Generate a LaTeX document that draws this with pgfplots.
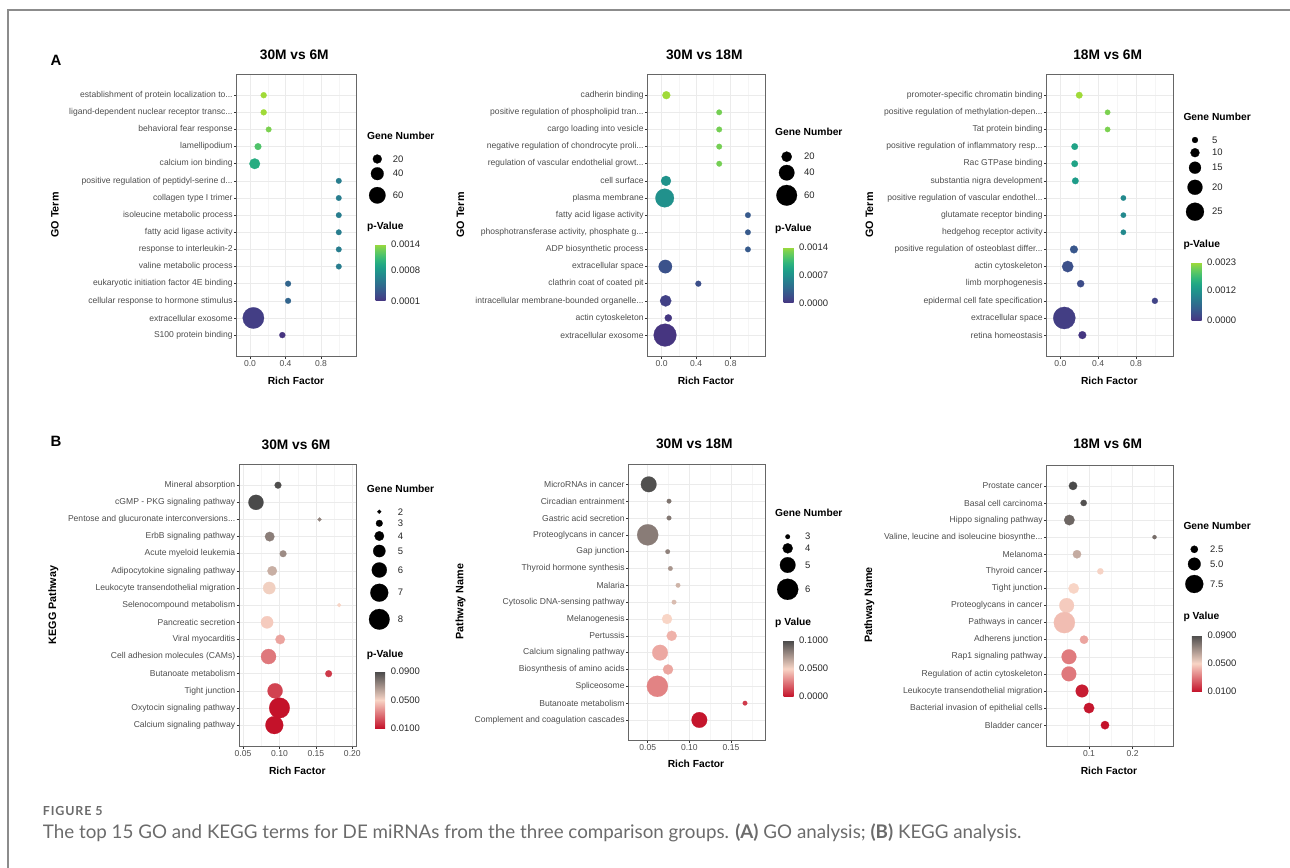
\documentclass[border=0pt]{standalone}
\usepackage{pgfplots}
\pgfplotsset{compat=1.18}
\usepackage{fontspec}
\setmainfont{Liberation Sans}
\newfontfamily\capfont{Lato}
\definecolor{tickgray}{HTML}{4D4D4D}
\definecolor{capgray}{HTML}{6B6B6B}
\newcommand{\el}{...}
\newcommand{\fTick}{\fontsize{8.6}{9}\selectfont}
\newcommand{\fAx}{\bfseries\fontsize{10.3}{11}\selectfont}
\newcommand{\fAy}{\bfseries\fontsize{10.8}{11}\selectfont}
\newcommand{\fTitle}{\bfseries\fontsize{13.8}{15}\selectfont}
\newcommand{\fLeg}{\fontsize{9.5}{10}\selectfont}
\tikzset{lg/.style={font=\fLeg, text=black!85, anchor=west, inner sep=0pt}}
\pgfplotsset{
  colormap={vir}{rgb255=(70,52,128) rgb255=(65,68,135) rgb255=(59,82,139) rgb255=(53,95,141) rgb255=(47,108,142) rgb255=(42,120,142) rgb255=(37,132,142) rgb255=(33,145,140) rgb255=(30,156,137) rgb255=(34,168,132) rgb255=(47,180,124) rgb255=(68,191,112) rgb255=(94,201,98) rgb255=(122,209,81) rgb255=(160,218,56)},
  colormap={rdgy}{rgb255=(196,18,42) rgb255=(248,213,198) rgb255=(74,74,74)},
  panel/.style={
    scale only axis, enlargelimits=false,
    y dir=reverse, ymin=-0.22, ymax=16.22, ytick={1,2,3,4,5,6,7,8,9,10,11,12,13,14,15},
    axis line style={draw=black!60, line width=0.9bp},
    tick align=outside, major tick length=2.7bp, minor tick length=0pt,
    tick style={black!80, line width=0.5bp},
    tick pos=left,
    grid=both,
    major grid style={draw=black!8, line width=0.5bp},
    minor grid style={draw=black!4, line width=0.3bp},
    yticklabel style={font=\fTick, text=tickgray, inner sep=1.2bp},
    xticklabel style={font=\fTick, text=tickgray, inner sep=1.5bp},
    point meta=explicit,
  },
  cbar/.style={at={(parent axis.north east)}, anchor=north west, width=10bp,
    axis line style={draw=none}, major tick length=0pt, ytick style={draw=none},
    yticklabel pos=right, scaled y ticks=false,
    yticklabel style={font=\fLeg, text=black!85, inner sep=0pt, xshift=5.5bp}},
  bub/.style 2 args={scatter, only marks, mark=*, line width=0.2bp,
    scatter/use mapped color={draw=mapped color, fill=mapped color},
    visualization depends on={#1+#2*\thisrow{n} \as \dia},
    scatter/@pre marker code/.append style={/tikz/mark size=\dia/2}},
  bubk/.style 2 args={scatter, only marks, mark=*, line width=0.2bp,
    scatter/use mapped color={draw=black, fill=black},
    visualization depends on={#1+#2*\thisrow{n} \as \dia},
    scatter/@pre marker code/.append style={/tikz/mark size=\dia/2}},
}
\begin{document}
\begin{tikzpicture}
\path[use as bounding box] (0,0) rectangle (1290bp,868bp);
% ---------------- overlay: texts, legends, caption ----------------
\begin{axis}[at={(0,0)}, anchor=south west, scale only axis, width=1290bp, height=868bp,
  xmin=0, xmax=1290, ymin=0, ymax=868, y dir=reverse, hide axis, clip=false]
\draw[black!45, line width=1.2bp] (axis cs:8,868) -- (axis cs:8,10) -- (axis cs:1290,10);
% panel letters
\node[font=\bfseries\fontsize{15}{16}\selectfont] at (axis cs:56,60.7) {A};
\node[font=\bfseries\fontsize{15}{16}\selectfont] at (axis cs:56,441) {B};
% titles
\node[font=\fTitle] at (axis cs:294.3,55) {30M vs 6M};
\node[font=\fTitle] at (axis cs:704.3,55) {30M vs 18M};
\node[font=\fTitle] at (axis cs:1107.7,55) {18M vs 6M};
\node[font=\fTitle] at (axis cs:296,445) {30M vs 6M};
\node[font=\fTitle] at (axis cs:694.3,443.3) {30M vs 18M};
\node[font=\fTitle] at (axis cs:1107.7,444) {18M vs 6M};
% x labels
\node[font=\fAx] at (axis cs:296,380.7) {Rich Factor};
\node[font=\fAx] at (axis cs:706,381) {Rich Factor};
\node[font=\fAx] at (axis cs:1109.3,381) {Rich Factor};
\node[font=\fAx] at (axis cs:297.3,770.7) {Rich Factor};
\node[font=\fAx] at (axis cs:696,764.3) {Rich Factor};
\node[font=\fAx] at (axis cs:1109,771) {Rich Factor};
% y labels
\node[font=\fAy, rotate=90] at (axis cs:55,215) {GO Term};
\node[font=\fAy, rotate=90] at (axis cs:460.5,215) {GO Term};
\node[font=\fAy, rotate=90] at (axis cs:869.3,215) {GO Term};
\node[font=\fAy, rotate=90] at (axis cs:53.3,605) {KEGG Pathway};
\node[font=\fAy, rotate=90] at (axis cs:460.5,601.7) {Pathway Name};
\node[font=\fAy, rotate=90] at (axis cs:869.3,605) {Pathway Name};
% legend titles
\node[font=\fAx, anchor=west, inner sep=0pt] at (axis cs:367,135.7) {Gene Number};
\node[font=\fAx, anchor=west, inner sep=0pt] at (axis cs:367,226.7) {p-Value};
\node[font=\fAx, anchor=west, inner sep=0pt] at (axis cs:775,132.3) {Gene Number};
\node[font=\fAx, anchor=west, inner sep=0pt] at (axis cs:775,229.3) {p-Value};
\node[font=\fAx, anchor=west, inner sep=0pt] at (axis cs:1183.3,116.7) {Gene Number};
\node[font=\fAx, anchor=west, inner sep=0pt] at (axis cs:1183.3,245) {p-Value};
\node[font=\fAx, anchor=west, inner sep=0pt] at (axis cs:366.7,489) {Gene Number};
\node[font=\fAx, anchor=west, inner sep=0pt] at (axis cs:366.7,655) {p-Value};
\node[font=\fAx, anchor=west, inner sep=0pt] at (axis cs:775,513.3) {Gene Number};
\node[font=\fAx, anchor=west, inner sep=0pt] at (axis cs:775,623.3) {p Value};
\node[font=\fAx, anchor=west, inner sep=0pt] at (axis cs:1183.3,526) {Gene Number};
\node[font=\fAx, anchor=west, inner sep=0pt] at (axis cs:1183.3,616.7) {p Value};
% size legend keys
\addplot[bubk={5.25}{0.1875}] table[x=x, y=y] {
x y n
377.3 159 20
377.3 173.7 40
377.3 195.3 60
};
\addplot[bubk={5.1}{0.26}] table[x=x, y=y] {
x y n
786.7 156.7 20
786.7 172.7 40
786.7 195.3 60
};
\addplot[bubk={3}{0.6}] table[x=x, y=y] {
x y n
1195 140 5
1195 152.7 10
1195 167.7 15
1195 187.3 20
1195 211.7 25
};
\addplot[bubk={-1.57}{2.78}] table[x=x, y=y] {
x y n
379.3 511.7 2
379.3 523.3 3
379.3 536 4
379.3 551 5
379.3 570 6
379.3 592.7 7
379.3 619.3 8
};
\addplot[bubk={-12}{5.53}] table[x=x, y=y] {
x y n
787.7 536.7 3
787.7 548.3 4
787.7 565 5
787.7 589.3 6
};
\addplot[bubk={1.95}{2.14}] table[x=x, y=y] {
x y n
1194.3 549.3 2.5
1194.3 564 5.0
1194.3 584 7.5
};
% size legend labels
\node[lg] at (axis cs:392.7,159) {20};
\node[lg] at (axis cs:392.7,173.7) {40};
\node[lg] at (axis cs:392.7,195.3) {60};
\node[lg] at (axis cs:804,156.7) {20};
\node[lg] at (axis cs:804,172.7) {40};
\node[lg] at (axis cs:804,195.3) {60};
\node[lg] at (axis cs:1212,140) {5};
\node[lg] at (axis cs:1212,152.7) {10};
\node[lg] at (axis cs:1212,167.7) {15};
\node[lg] at (axis cs:1212,187.3) {20};
\node[lg] at (axis cs:1212,211.7) {25};
\node[lg] at (axis cs:397.7,511.7) {2};
\node[lg] at (axis cs:397.7,523.3) {3};
\node[lg] at (axis cs:397.7,536) {4};
\node[lg] at (axis cs:397.7,551) {5};
\node[lg] at (axis cs:397.7,570) {6};
\node[lg] at (axis cs:397.7,592.7) {7};
\node[lg] at (axis cs:397.7,619.3) {8};
\node[lg] at (axis cs:805,536.7) {3};
\node[lg] at (axis cs:805,548.3) {4};
\node[lg] at (axis cs:805,565) {5};
\node[lg] at (axis cs:805,589.3) {6};
\node[lg] at (axis cs:1210,549.3) {2.5};
\node[lg] at (axis cs:1210,564) {5.0};
\node[lg] at (axis cs:1210,584) {7.5};
% caption
\node[anchor=base west, inner sep=0pt, font=\capfont\bfseries\fontsize{12.5}{13}\selectfont\addfontfeature{LetterSpace=7}, text=capgray] at (axis cs:42.7,815.7) {FIGURE 5};
\node[anchor=base west, inner sep=0pt, font=\capfont\fontsize{18.85}{20}\selectfont, text=capgray] at (axis cs:42.7,838.3)
  {The top 15 GO and KEGG terms for DE miRNAs from the three comparison groups. {\bfseries(A)} GO analysis; {\bfseries(B)} KEGG analysis.};
\end{axis}
% ---------------- A1 ----------------
\begin{axis}[panel, at={(236.7bp,512bp)}, anchor=south west, width=119.3bp, height=281.7bp,
  xmin=-0.15, xmax=1.194, xtick={0,0.4,0.8}, xticklabels={0.0,0.4,0.8}, minor xtick={0.2,0.6,1.0},
  yticklabels={{establishment of protein localization to\el},{ligand-dependent nuclear receptor transc\el},behavioral fear response,lamellipodium,calcium ion binding,{positive regulation of peptidyl-serine d\el},collagen type I trimer,isoleucine metabolic process,fatty acid ligase activity,response to interleukin-2,valine metabolic process,eukaryotic initiation factor 4E binding,cellular response to hormone stimulus,extracellular exosome,S100 protein binding},
  colormap name=vir, point meta min=0.0001, point meta max=0.0014,
  colorbar, colorbar style={cbar, xshift=11bp, yshift=-169.7bp, height=57bp,
    ytick={0.0001,0.0008,0.0014}, yticklabels={0.0001,0.0008,0.0014}}]
\addplot[bub={5.25}{0.1875}] table[x=rf, y=i, meta=p] {
i rf n p
1 0.154 4 0.0014
2 0.154 4 0.0014
3 0.210 2 0.00131
4 0.090 8 0.00116
5 0.053 29 0.00097
6 1.0 2 0.0006
7 1.0 2 0.0006
8 1.0 2 0.0006
9 1.0 2 0.0006
10 1.0 2 0.0006
11 1.0 2 0.0006
12 0.429 3 0.00042
13 0.429 3 0.00042
14 0.038 86 0.00016
15 0.364 4 0.0001
};
\end{axis}
% ---------------- A2 ----------------
\begin{axis}[panel, at={(647.7bp,512bp)}, anchor=south west, width=117.3bp, height=281.7bp,
  xmin=-0.162, xmax=1.198, xtick={0,0.4,0.8}, xticklabels={0.0,0.4,0.8}, minor xtick={0.2,0.6,1.0},
  yticklabels={cadherin binding,{positive regulation of phospholipid tran\el},cargo loading into vesicle,{negative regulation of chondrocyte proli\el},{regulation of vascular endothelial growt\el},cell surface,plasma membrane,fatty acid ligase activity,{phosphotransferase activity, phosphate g\el},ADP biosynthetic process,extracellular space,clathrin coat of coated pit,{intracellular membrane-bounded organelle\el},actin cytoskeleton,extracellular exosome},
  colormap name=vir, point meta min=0, point meta max=0.0014,
  colorbar, colorbar style={cbar, xshift=10bp, yshift=-172.7bp, height=56bp,
    ytick={0,0.0007,0.0014}, yticklabels={0.0000,0.0007,0.0014}}]
\addplot[bub={5.1}{0.26}] table[x=rf, y=i, meta=p] {
i rf n p
1 0.054 11 0.0014
2 0.667 2 0.00128
3 0.667 2 0.00128
4 0.667 2 0.00128
5 0.667 2 0.00128
6 0.050 19 0.00072
7 0.035 52 0.0007
8 1.0 2 0.00026
9 1.0 2 0.00026
10 1.0 2 0.00026
11 0.0425 32 0.0002
12 0.425 3 0.00018
13 0.046 24 0.00008
14 0.077 8 0.00002
15 0.039 68 0.000005
};
\end{axis}
% ---------------- A3 ----------------
\begin{axis}[panel, at={(1046.7bp,512bp)}, anchor=south west, width=126.6bp, height=281.7bp,
  xmin=-0.144, xmax=1.195, xtick={0,0.4,0.8}, xticklabels={0.0,0.4,0.8}, minor xtick={0.2,0.6,1.0},
  yticklabels={promoter-specific chromatin binding,{positive regulation of methylation-depen\el},Tat protein binding,{positive regulation of inflammatory resp\el},Rac GTPase binding,substantia nigra development,{positive regulation of vascular endothel\el},glutamate receptor binding,hedgehog receptor activity,{positive regulation of osteoblast differ\el},actin cytoskeleton,limb morphogenesis,epidermal cell fate specification,extracellular space,retina homeostasis},
  colormap name=vir, point meta min=0, point meta max=0.0023,
  colorbar, colorbar style={cbar, xshift=9.7bp, yshift=-188.4bp, height=58bp,
    ytick={0,0.0012,0.0023}, yticklabels={0.0000,0.0012,0.0023}}]
\addplot[bub={3}{0.6}] table[x=rf, y=i, meta=p] {
i rf n p
1 0.20 6 0.0023
2 0.50 4 0.00214
3 0.50 4 0.00214
4 0.152 6 0.00141
5 0.152 6 0.00141
6 0.159 6 0.00131
7 0.667 4 0.00105
8 0.667 4 0.00105
9 0.667 4 0.00105
10 0.144 8 0.00039
11 0.078 14 0.0003
12 0.215 7 0.00026
13 1.0 5 0.00016
14 0.042 32 0.0001
15 0.233 8 0.00002
};
\end{axis}
% ---------------- B1 ----------------
\begin{axis}[panel, at={(239.3bp,122bp)}, anchor=south west, width=117.4bp, height=281.7bp,
  xmin=0.0449, xmax=0.206, xtick={0.05,0.10,0.15,0.20}, xticklabels={0.05,0.10,0.15,0.20}, minor xtick={0.075,0.125,0.175},
  yticklabels={Mineral absorption,cGMP - PKG signaling pathway,{Pentose and glucuronate interconversions\el},ErbB signaling pathway,Acute myeloid leukemia,Adipocytokine signaling pathway,Leukocyte transendothelial migration,Selenocompound metabolism,Pancreatic secretion,Viral myocarditis,Cell adhesion molecules (CAMs),Butanoate metabolism,Tight junction,Oxytocin signaling pathway,Calcium signaling pathway},
  colormap name=rdgy, point meta min=0.01, point meta max=0.09,
  colorbar, colorbar style={cbar, xshift=10bp, yshift=-207.4bp, height=56.6bp,
    ytick={0.01,0.05,0.09}, yticklabels={0.0100,0.0500,0.0900}}]
\addplot[bub={-1.57}{2.78}] table[x=rf, y=i, meta=p] {
i rf n p
1 0.098 3 0.089
2 0.0678 6 0.09
3 0.155 2 0.074
4 0.0866 4 0.075
5 0.105 3 0.071
6 0.090 4 0.061
7 0.086 5 0.0516
8 0.182 2 0.050
9 0.083 5 0.048
10 0.101 4 0.040
11 0.085 6 0.031
12 0.1675 3 0.018
13 0.094 6 0.020
14 0.100 8 0.010
15 0.093 7 0.010
};
\end{axis}
% ---------------- B2 ----------------
\begin{axis}[panel, at={(628.7bp,128bp)}, anchor=south west, width=136.3bp, height=275.7bp,
  ymin=-0.19, ymax=16.19,
  xmin=0.0272, xmax=0.1908, xtick={0.05,0.10,0.15}, xticklabels={0.05,0.10,0.15}, minor xtick={0.075,0.125,0.175},
  yticklabels={MicroRNAs in cancer,Circadian entrainment,Gastric acid secretion,Proteoglycans in cancer,Gap junction,Thyroid hormone synthesis,Malaria,Cytosolic DNA-sensing pathway,Melanogenesis,Pertussis,Calcium signaling pathway,Biosynthesis of amino acids,Spliceosome,Butanoate metabolism,Complement and coagulation cascades},
  colormap name=rdgy, point meta min=0, point meta max=0.1,
  colorbar, colorbar style={cbar, xshift=10bp, yshift=-176.4bp, height=56bp,
    ytick={0,0.05,0.1}, yticklabels={0.0000,0.0500,0.1000}}]
\addplot[bub={-12}{5.53}] table[x=rf, y=i, meta=p] {
i rf n p
1 0.0512 5 0.098
2 0.0756 3 0.085
3 0.0756 3 0.084
4 0.050 6 0.082
5 0.074 3 0.080
6 0.0772 3 0.073
7 0.0864 3 0.062
8 0.0816 3 0.059
9 0.0732 4 0.050
10 0.0788 4 0.041
11 0.0648 5 0.0385
12 0.0744 4 0.038
13 0.0616 6 0.029
14 0.1668 3 0.0105
15 0.112 5 0.001
};
\end{axis}
% ---------------- B3 ----------------
\begin{axis}[panel, at={(1046.7bp,122bp)}, anchor=south west, width=126.6bp, height=281bp,
  xmin=0.0032, xmax=0.293, xtick={0.1,0.2}, xticklabels={0.1,0.2}, minor xtick={0.05,0.15,0.25},
  yticklabels={Prostate cancer,Basal cell carcinoma,Hippo signaling pathway,{Valine, leucine and isoleucine biosynthe\el},Melanoma,Thyroid cancer,Tight junction,Proteoglycans in cancer,Pathways in cancer,Adherens junction,Rap1 signaling pathway,Regulation of actin cytoskeleton,Leukocyte transendothelial migration,Bacterial invasion of epithelial cells,Bladder cancer},
  colormap name=rdgy, point meta min=0.01, point meta max=0.09,
  colorbar, colorbar style={cbar, xshift=10bp, yshift=-170bp, height=56.7bp,
    ytick={0.01,0.05,0.09}, yticklabels={0.0100,0.0500,0.0900}}]
\addplot[bub={1.95}{2.14}] table[x=rf, y=i, meta=p] {
i rf n p
1 0.0634 3 0.09
2 0.0878 2 0.088
3 0.055 4 0.082
4 0.250 1 0.080
5 0.0725 3 0.062
6 0.126 2 0.0505
7 0.065 4 0.050
8 0.0489 6 0.048
9 0.0436 9 0.045
10 0.0886 3 0.040
11 0.0542 6 0.0316
12 0.054 6 0.031
13 0.084 5 0.012
14 0.100 4 0.011
15 0.1366 3 0.010
};
\end{axis}
\end{tikzpicture}
\end{document}
